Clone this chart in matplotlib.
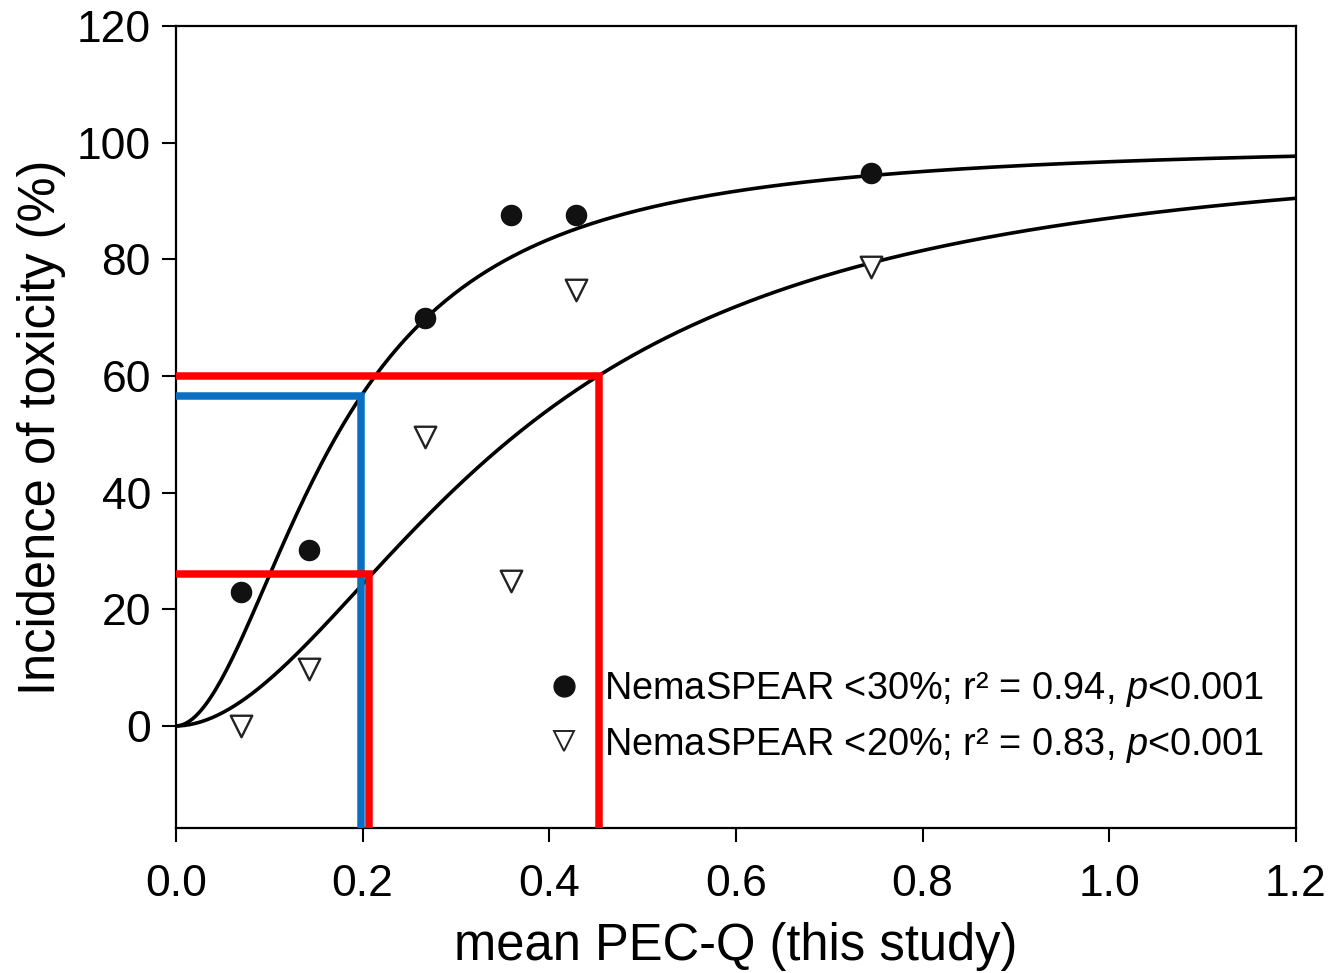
import numpy as np
import matplotlib
matplotlib.use("Agg")
import matplotlib.pyplot as plt
from matplotlib.lines import Line2D

plt.rcParams['font.family'] = ['Liberation Sans', 'DejaVu Sans']
plt.rcParams['mathtext.fontset'] = 'custom'
plt.rcParams['mathtext.it'] = 'Liberation Sans:italic'
plt.rcParams['mathtext.rm'] = 'Liberation Sans'

# Data
pecq = [0.070, 0.143, 0.267, 0.359, 0.429, 0.745]
nema30 = [23.0, 30.2, 70.0, 87.6, 87.6, 94.8]
nema20 = [0.0, 9.8, 49.6, 24.8, 74.7, 78.6]

# Hill-type fit parameters (max, slope, EC50) estimated from the drawn curves
fit30 = (100.0, 1.93, 0.173)
fit20 = (100.0, 1.89, 0.365)

# Reference lines: (x, y) corners
red_lines = [(0.453, 60.0), (0.207, 26.0)]
blue_lines = [(0.198, 56.6)]

labels = ["NemaSPEAR <30%; r\u00b2 = 0.94, $\\it{p}$<0.001",
          "NemaSPEAR <20%; r\u00b2 = 0.83, $\\it{p}$<0.001"]
xticks = [0.0, 0.2, 0.4, 0.6, 0.8, 1.0, 1.2]
yticks = [0, 20, 40, 60, 80, 100, 120]

fig = plt.figure(figsize=(13.30, 9.73), dpi=100)
ax = fig.add_axes([0.1323, 0.149, 0.8421, 0.8243])
ymin = -17.5
ax.set_xlim(0, 1.2)
ax.set_ylim(ymin, 120)

xs = np.linspace(0, 1.2, 400)
def hill(x, p):
    a, b, c = p
    return a * x**b / (c**b + x**b)

ax.plot(xs, hill(xs, fit30), color='black', lw=2.6, zorder=3, solid_capstyle='butt')
ax.plot(xs, hill(xs, fit20), color='black', lw=2.6, zorder=3, solid_capstyle='butt')

lw_ref = 5.4
for (x, y) in blue_lines:
    ax.plot([0, x, x], [y, y, ymin], color='#0a6fc2', lw=lw_ref, zorder=4,
            solid_joinstyle='miter', solid_capstyle='butt')
for (x, y) in red_lines:
    ax.plot([0, x, x], [y, y, ymin], color='#ff0000', lw=lw_ref, zorder=5,
            solid_joinstyle='miter', solid_capstyle='butt')

ax.scatter(pecq, nema30, s=210, marker='o', color='#111111', zorder=6)
ax.scatter(pecq, nema20, s=240, marker='v', facecolor='white', edgecolor='#222222',
           linewidths=1.7, zorder=6)

ax.set_xticks(xticks)
ax.set_xticklabels([f"{t:.1f}" for t in xticks])
ax.set_yticks(yticks)
ax.tick_params(axis='both', direction='out', length=10, width=1.5, labelsize=32,
               top=False, right=False)
ax.tick_params(axis='x', pad=16)
ax.tick_params(axis='y', pad=8)
for s in ax.spines.values():
    s.set_linewidth(1.6)

ax.set_xlabel("mean PEC-Q (this study)", fontsize=36.5, labelpad=12)
ax.set_ylabel("Incidence of toxicity (%)", fontsize=36.5, labelpad=8)

handles = [Line2D([], [], ls='none', marker='o', color='#111111', markersize=15),
           Line2D([], [], ls='none', marker='v', markerfacecolor='white',
                  markeredgecolor='#222222', markeredgewidth=1.4, markersize=14)]
leg = ax.legend(handles, labels, loc='lower right', bbox_to_anchor=(0.985, 0.06),
                frameon=False, fontsize=27.3, handletextpad=0.45, labelspacing=0.43,
                handlelength=1.2, borderaxespad=0)
leg.set_zorder(10)

fig.savefig("out.png", dpi=100)
